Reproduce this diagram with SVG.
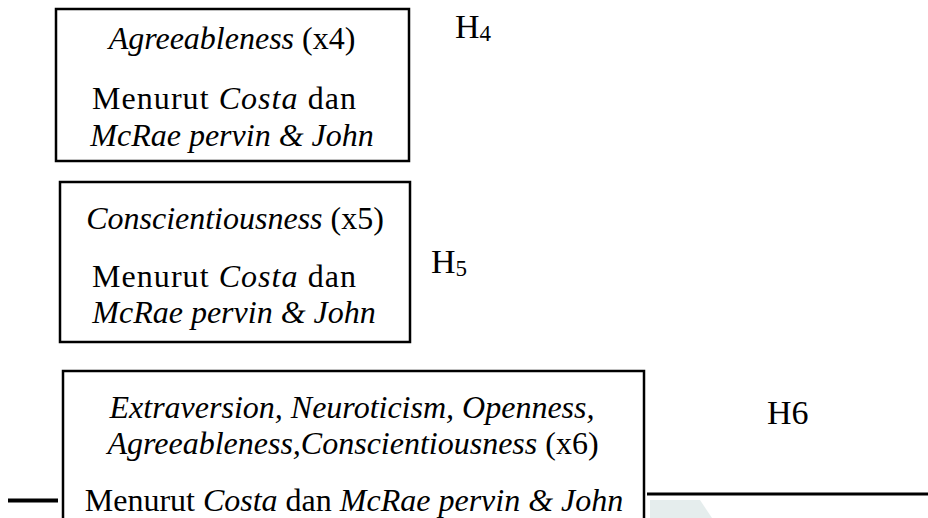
<svg xmlns="http://www.w3.org/2000/svg" width="928" height="518" viewBox="0 0 928 518">
<style>
text{font-family:"Liberation Serif","Times New Roman",serif;fill:#000}
.box{fill:#fff;stroke:#000;stroke-width:2.5}
.t{font-size:32px;text-anchor:middle}
.j{font-size:32px}
.h{font-size:34px}
.i{font-style:italic}
.sub{font-size:23px}
.ln{stroke:#000;fill:none}
</style>
<rect width="928" height="518" fill="#fff"/>
<path d="M650 500 L700 500 L712 518 L650 518 Z" fill="#dfe8e8" opacity="0.8"/>
<g id="connectors">
<line class="ln" x1="8" y1="500.5" x2="58" y2="500.5" stroke-width="4"/>
<line class="ln" x1="647" y1="494" x2="928" y2="494" stroke-width="3"/>
</g>
<g id="node-x4">
<rect class="box" x="56" y="9" width="353" height="152"/>
<text class="t" x="232" y="49"><tspan class="i">Agreeableness</tspan> (x4)</text>
<text class="j" x="92" y="109" textLength="264" lengthAdjust="spacing">Menurut <tspan class="i">Costa</tspan> dan</text>
<text class="t i" x="232" y="146">McRae pervin &amp; John</text>
</g>
<g id="node-x5">
<rect class="box" x="60" y="182" width="350" height="160"/>
<text class="t" x="235" y="229"><tspan class="i">Conscientiousness</tspan> (x5)</text>
<text class="j" x="92" y="287" textLength="264" lengthAdjust="spacing">Menurut <tspan class="i">Costa</tspan> dan</text>
<text class="t i" x="234" y="323">McRae pervin &amp; John</text>
</g>
<g id="node-x6">
<rect class="box" x="63" y="371" width="581" height="160"/>
<text class="t i" x="352" y="418">Extraversion, Neuroticism, Openness,</text>
<text class="t" x="353" y="454"><tspan class="i">Agreeableness,Conscientiousness</tspan> (x6)</text>
<text class="t" x="354" y="511">Menurut <tspan class="i">Costa</tspan> dan <tspan class="i">McRae pervin &amp; John</tspan></text>
</g>
<g id="labels">
<text class="h" x="455" y="38">H<tspan class="sub" dy="3">4</tspan></text>
<text class="h" x="431" y="273">H<tspan class="sub" dy="3">5</tspan></text>
<text class="h" x="767" y="424">H6</text>
</g>
</svg>
